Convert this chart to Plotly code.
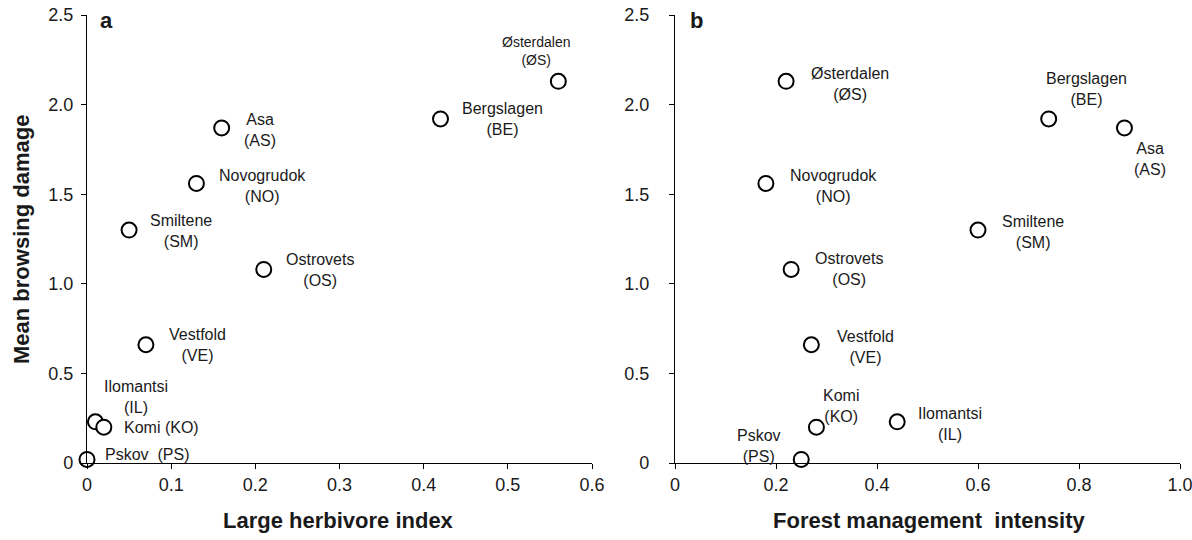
import plotly.graph_objects as go

# ---- data ----
sites = ["Østerdalen", "Bergslagen", "Asa", "Novogrudok", "Smiltene",
         "Ostrovets", "Vestfold", "Ilomantsi", "Komi", "Pskov"]
codes = ["ØS", "BE", "AS", "NO", "SM", "OS", "VE", "IL", "KO", "PS"]
browsing_damage = [2.13, 1.92, 1.87, 1.56, 1.30, 1.08, 0.66, 0.23, 0.20, 0.02]
herbivore_index = [0.56, 0.42, 0.16, 0.13, 0.05, 0.21, 0.07, 0.01, 0.02, 0.00]
forest_intensity = [0.22, 0.74, 0.89, 0.18, 0.60, 0.23, 0.27, 0.44, 0.28, 0.25]

y_ticks = [0, 0.5, 1.0, 1.5, 2.0, 2.5]
y_ticktext = ["0", "0.5", "1.0", "1.5", "2.0", "2.5"]
xa_ticks = [0, 0.1, 0.2, 0.3, 0.4, 0.5, 0.6]
xa_ticktext = ["0", "0.1", "0.2", "0.3", "0.4", "0.5", "0.6"]
xb_ticks = [0, 0.2, 0.4, 0.6, 0.8, 1.0]
xb_ticktext = ["0", "0.2", "0.4", "0.6", "0.8", "1.0"]

# ---- label styling (pixel offsets from each point) ----
W, H = 1192, 540
FONT = "Liberation Sans, Arial, sans-serif"
oneline = {"KO", "PS"}
offs_a = {"ØS": (-22, 30), "BE": (62, 0), "AS": (38, -2), "NO": (66, -3),
          "SM": (52, -1), "OS": (56, -1), "VE": (52, 0), "IL": (41, 25),
          "KO": (58, 0), "PS": (60, 5)}
offs_b = {"ØS": (64, -3), "BE": (38, 30), "AS": (26, -31), "NO": (68, -3),
          "SM": (55, -2), "OS": (58, 0), "VE": (54, -2), "KO": (25, 21),
          "IL": (53, -2), "PS": (-42, 13)}

marker = dict(symbol="circle", size=15, color="white",
              line=dict(color="black", width=2))

fig = go.Figure()
fig.add_trace(go.Scatter(x=herbivore_index, y=browsing_damage, mode="markers",
                         marker=marker, xaxis="x", yaxis="y", cliponaxis=False,
                         showlegend=False))
fig.add_trace(go.Scatter(x=forest_intensity, y=browsing_damage, mode="markers",
                         marker=marker, xaxis="x2", yaxis="y2", cliponaxis=False,
                         showlegend=False))

annotations = []
for panel, xs, offs, xr, yr in [("a", herbivore_index, offs_a, "x", "y"),
                                ("b", forest_intensity, offs_b, "x2", "y2")]:
    for name, code, xv, yv in zip(sites, codes, xs, browsing_damage):
        if code in oneline and panel == "a":
            txt = f"{name}\u00a0\u00a0({code})" if code == "PS" else f"{name} ({code})"
        else:
            txt = f"{name}<br>({code})"
        dx, dy = offs[code]
        size = 14 if (panel == "a" and code == "ØS") else 16
        annotations.append(dict(x=xv, y=yv, xref=xr, yref=yr, text=txt,
                                showarrow=False, xshift=dx, yshift=dy,
                                xanchor="center", yanchor="middle",
                                font=dict(family=FONT, size=size, color="#1a1a1a")))

# axis titles and panel letters
def paper_text(px, py, text, angle=0):
    return dict(x=px / W, y=1 - py / H, xref="paper", yref="paper",
                text=text, showarrow=False, textangle=angle,
                xanchor="center", yanchor="middle",
                font=dict(family=FONT, size=22, color="#1a1a1a"))

annotations += [
    paper_text(338, 520, "<b>Large herbivore index</b>"),
    paper_text(929, 520, "<b>Forest management\u00a0\u00a0intensity</b>"),
    paper_text(21, 240, "<b>Mean browsing damage</b>", -90),
    paper_text(106, 21, "<b>a</b>"),
    paper_text(697, 21, "<b>b</b>"),
]

ydom = [1 - 463 / H, 1 - 15 / H]
common_axis = dict(showline=True, linecolor="black", linewidth=1.3,
                   ticks="outside", ticklen=5, tickwidth=1.2, tickcolor="black",
                   showgrid=False, zeroline=False, automargin=False,
                   ticklabeloverflow="allow",
                   tickfont=dict(family=FONT, size=18, color="#1a1a1a"))

fig.update_layout(
    width=W, height=H,
    margin=dict(l=0, r=0, t=0, b=0, autoexpand=False),
    paper_bgcolor="white", plot_bgcolor="white",
    xaxis=dict(domain=[87 / W, 592 / W], range=[0, 0.6], tickmode="array",
               tickvals=xa_ticks, ticktext=xa_ticktext, anchor="y", **common_axis),
    yaxis=dict(domain=ydom, range=[0, 2.5], tickmode="array",
               tickvals=y_ticks, ticktext=y_ticktext, anchor="x",
               ticklabelstandoff=4, **common_axis),
    xaxis2=dict(domain=[675 / W, 1180 / W], range=[0, 1.0], tickmode="array",
                tickvals=xb_ticks, ticktext=xb_ticktext, anchor="y2", **common_axis),
    yaxis2=dict(domain=ydom, range=[0, 2.5], tickmode="array",
                tickvals=y_ticks, ticktext=y_ticktext, anchor="x2",
                ticklabelstandoff=16, **common_axis),
    annotations=annotations,
)

fig.write_html("out.html")
